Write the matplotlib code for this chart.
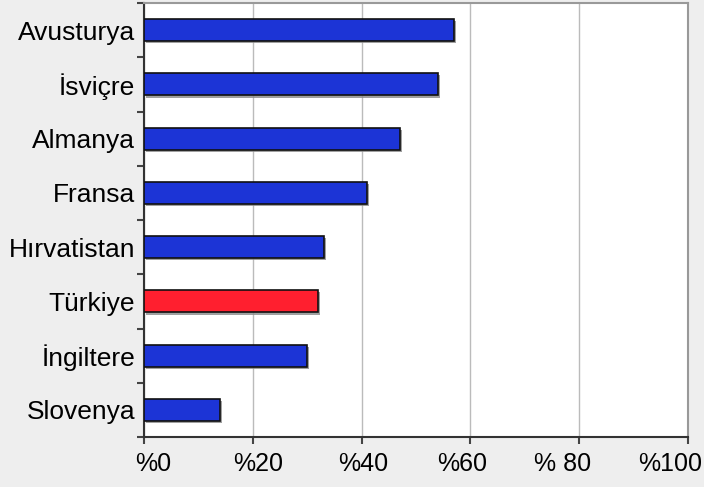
import matplotlib
matplotlib.use("Agg")
import matplotlib.pyplot as plt
import matplotlib.patheffects as pe
import matplotlib.transforms as mtransforms
from matplotlib.ticker import FixedLocator, NullFormatter

countries = ["Slovenya", "İngiltere", "Türkiye", "Hırvatistan", "Fransa", "Almanya", "İsviçre", "Avusturya"]
values = [14, 30, 32, 33, 41, 47, 54, 57]
highlight = "Türkiye"
x_ticks = [0, 20, 40, 60, 80, 100]
x_tick_labels = ["%0", "%20", "%40", "%60", "% 80", "%100"]

plt.rcParams["font.family"] = ["Liberation Sans", "DejaVu Sans"]

fig = plt.figure(figsize=(7.04, 4.87), dpi=100, facecolor="#eeeeee")
ax = fig.add_axes([144 / 704, 1 - 437 / 487, (688 - 144) / 704, (437 - 3) / 487])
ax.set_facecolor("white")

colors = ["#ff1f2f" if c == highlight else "#1c34d6" for c in countries]
ypos = list(range(len(countries)))
bars = ax.barh(ypos, values, height=0.41, color=colors, edgecolor="#111111", linewidth=1.2, zorder=3)
for b in bars:
    b.set_path_effects([pe.SimplePatchShadow(offset=(1.5, -1.5), shadow_rgbFace="#888888", alpha=0.8), pe.Normal()])

ax.set_xlim(0, 100)
ax.set_ylim(-0.5, len(countries) - 0.5)

ax.set_xticks(x_ticks)
ax.set_xticklabels([])
ax.xaxis.grid(True, color="#bbbbbb", linewidth=1, zorder=0)
ax.set_axisbelow(True)

# x tick labels, each nudged horizontally by a few pixels
label_shift = [9, 5, 2, -8.5, -16.5, -18]
for xv, txt, dx in zip(x_ticks, x_tick_labels, label_shift):
    tr = ax.get_xaxis_transform() + mtransforms.ScaledTranslation(dx / 100, -15 / 100, fig.dpi_scale_trans)
    ax.text(xv, 0, txt, transform=tr, ha="center", va="top", fontsize=18, color="black", clip_on=False)

ax.set_yticks(ypos)
ax.set_yticklabels(countries, fontsize=19)
ax.tick_params(axis="y", which="major", length=0, pad=6.5)
ax.yaxis.set_minor_locator(FixedLocator([i - 0.5 for i in range(len(countries) + 1)]))
ax.yaxis.set_minor_formatter(NullFormatter())
ax.tick_params(axis="y", which="minor", length=5, width=1.5, color="#444444", direction="out")
ax.tick_params(axis="x", length=5, width=1.5, color="#444444", direction="out")

for side in ["left", "bottom"]:
    ax.spines[side].set_color("#333333")
    ax.spines[side].set_linewidth(1.5)
for side in ["top", "right"]:
    ax.spines[side].set_color("#999999")
    ax.spines[side].set_linewidth(1.5)

fig.savefig("out.png", dpi=100, facecolor=fig.get_facecolor())
